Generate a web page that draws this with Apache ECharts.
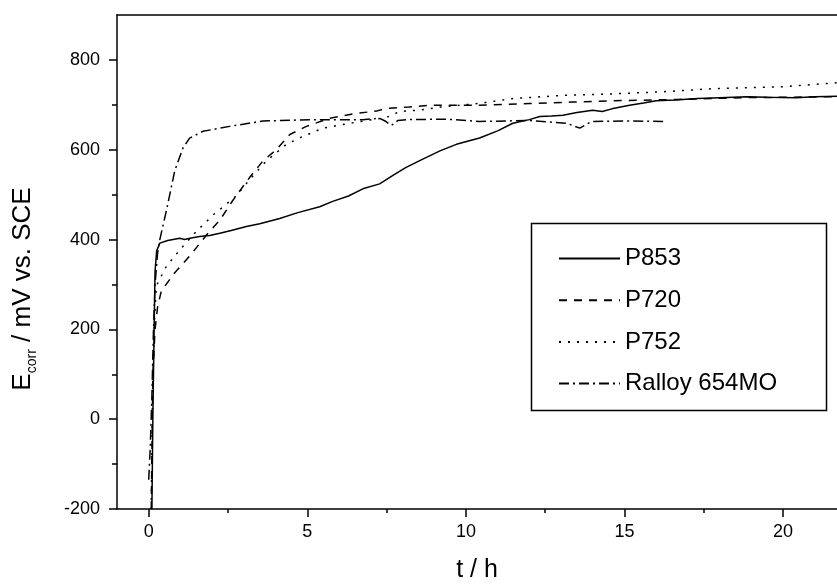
<!DOCTYPE html>
<html>
<head>
<meta charset="utf-8">
<script src="https://cdn.jsdelivr.net/npm/echarts@6/dist/echarts.min.js"></script>
<style>html,body{margin:0;padding:0;background:#fff}#c{width:837px;height:588px}</style>
</head>
<body>
<div id="c"></div>
<script>
// ---- data ----
const seriesNames = ['P853', 'P720', 'P752', 'Ralloy 654MO'];

const p853T = [0.1,0.13,0.17,0.2,0.25,0.35,0.6,0.98,1.13,1.3,1.6,1.92,2.24,2.6,3.08,3.5,4.13,4.7,5.39,5.8,6.3,6.75,7.28,7.7,8.1,8.64,9.2,9.7,10.43,11,11.48,12.0,12.33,12.7,13.06,13.5,14.0,14.3,14.6,15.16,15.6,16.0,16.6,17.3,18.0,18.85,19.5,20.4,21.0,21.7];
const p853V = [-200,0,200,330,375,392,398,403,400,403,407,409,414,420,429,435,447,460,473,485,497,513,524,543,560,579,598,612,626,642,659,667,674,675,677,683,688,685,691,699,704,709,711,714,716,718,717,716,718,719];

const p720T = [0.08,0.13,0.2,0.28,0.4,0.82,1.29,1.82,2.24,2.65,3.18,3.6,4.02,4.45,4.97,5.71,6.55,7.18,7.49,8.2,8.86,10.43,12.0,13.3,14.6,16.7,18.85,20.3,21.7];
const p720V = [-200,100,200,250,286,326,363,410,443,487,538,575,600,634,652,670,681,686,692,695,699,699,703,706,709,712,716,717,718];

const p752T = [0.08,0.12,0.18,0.24,0.56,1.03,1.5,2.08,2.4,2.77,3.2,3.71,4.02,4.34,4.87,5.5,6.34,6.97,7.5,7.91,8.5,9.2,10.4,11.5,13.05,14.5,16.2,17.8,19.9,21.7];
const p752V = [-200,50,220,297,341,381,418,458,476,498,535,575,593,612,630,648,659,666,672,685,688,695,703,714,721,724,729,736,740,749];

const ralloyT = [0.0,0.05,0.1,0.15,0.2,0.28,0.35,0.56,0.82,1.08,1.29,1.71,2.55,3.6,5.17,6.75,7.28,7.45,7.65,7.85,8.12,9.39,10.43,12.0,13.17,13.59,13.96,15.16,16.32];
const ralloyV = [-135,-60,50,200,300,370,400,465,553,604,626,641,652,664,667,667,670,664,654,665,667,668,663,665,659,648,663,664,663];

const xMajorTicks = [0, 5, 10, 15, 20];
const xMinorTicks = [2.5, 7.5, 12.5, 17.5];
const yMajorTicks = [-200, 0, 200, 400, 600, 800];
const yMinorTicks = [-100, 100, 300, 500, 700];

// ---- chart ----
const zip = (t, v) => t.map((x, i) => [x, v[i]]);
const dashes = ['solid', [8, 7], [2, 7], [10, 4, 2, 4]];
const allData = [zip(p853T, p853V), zip(p720T, p720V), zip(p752T, p752V), zip(ralloyT, ralloyV)];

const FONT = 'Liberation Sans, Arial, sans-serif';
const axisLine = { show: true, onZero: false, lineStyle: { color: '#000', width: 1.5 } };
const tickStyle = { color: '#000', width: 1.5 };

const chart = echarts.init(document.getElementById('c'), null, { renderer: 'canvas' });
chart.setOption({
  animation: false,
  backgroundColor: '#fff',
  grid: { left: 117, right: 0, top: 15, bottom: 72, containLabel: false },
  xAxis: [
    {
      type: 'value', min: -1, max: 21.7, position: 'bottom',
      axisLine: axisLine,
      axisTick: { show: true, customValues: xMajorTicks, length: 8, lineStyle: tickStyle },
      axisLabel: { customValues: xMajorTicks, color: '#000', fontSize: 18, fontFamily: FONT, margin: 14 },
      splitLine: { show: false },
      name: 't / h', nameLocation: 'middle', nameGap: 49,
      nameTextStyle: { color: '#000', fontSize: 25, fontFamily: FONT }
    },
    {
      type: 'value', min: -1, max: 21.7, position: 'bottom',
      axisLine: { show: false, onZero: false },
      axisTick: { show: true, customValues: xMinorTicks, length: 4, lineStyle: tickStyle },
      axisLabel: { show: false },
      splitLine: { show: false }
    },
    {
      type: 'value', min: -1, max: 21.7, position: 'top',
      axisLine: axisLine,
      axisTick: { show: false }, axisLabel: { show: false }, splitLine: { show: false }
    }
  ],
  yAxis: [
    {
      type: 'value', min: -200, max: 900, position: 'left',
      axisLine: axisLine,
      axisTick: { show: true, customValues: yMajorTicks, length: 8, lineStyle: tickStyle },
      axisLabel: { customValues: yMajorTicks, color: '#000', fontSize: 18, fontFamily: FONT, margin: 17 },
      splitLine: { show: false }
    },
    {
      type: 'value', min: -200, max: 900, position: 'left',
      axisLine: { show: false, onZero: false },
      axisTick: { show: true, customValues: yMinorTicks, length: 5, lineStyle: tickStyle },
      axisLabel: { show: false },
      splitLine: { show: false }
    }
  ],
  legend: {
    orient: 'vertical', left: 558, top: 246.5, padding: 0,
    itemWidth: 61, itemHeight: 14, itemGap: 17.7,
    data: seriesNames,
    itemStyle: { opacity: 0 },
    textStyle: { color: '#000', fontSize: 24, fontFamily: FONT, lineHeight: 24 }
  },
  graphic: [
    {
      type: 'rect', left: 529, top: 221, silent: true,
      shape: { width: 295, height: 187 },
      style: { fill: 'none', stroke: '#000', lineWidth: 1.5 }
    },
    {
      type: 'text', x: 23, y: 289, rotation: Math.PI / 2, silent: true,
      style: {
        text: '{a|E}{b|corr}{a| / mV vs. SCE}',
        align: 'center', verticalAlign: 'middle',
        rich: {
          a: { fontSize: 26, fontFamily: FONT, fill: '#000', lineHeight: 32, verticalAlign: 'middle' },
          b: { fontSize: 14, fontFamily: FONT, fill: '#000', lineHeight: 32, verticalAlign: 'bottom' }
        }
      }
    }
  ],
  series: seriesNames.map((n, i) => ({
    name: n, type: 'line', xAxisIndex: 0, yAxisIndex: 0,
    data: allData[i], symbol: 'none', showSymbol: false, smooth: false,
    lineStyle: { color: '#000', width: 1.5, type: dashes[i] },
    itemStyle: { color: '#000' }
  }))
});
</script>
</body>
</html>
